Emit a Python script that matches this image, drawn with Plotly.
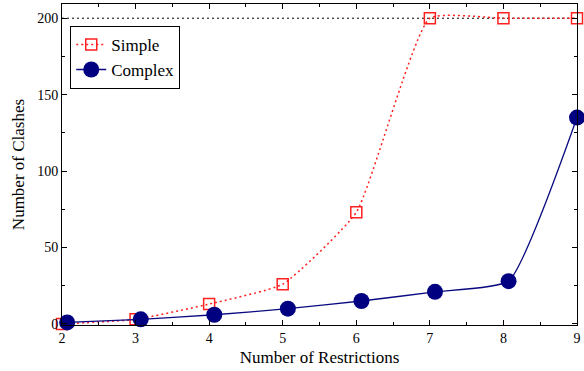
import plotly.graph_objects as go

# Number of clashes vs. number of restrictions
simple_x = [2, 3, 4, 5, 6, 7, 8, 9]
simple_y = [0, 3, 13, 26, 73, 200, 200, 200]

complex_x = [2.07, 3.07, 4.07, 5.07, 6.07, 7.07, 8.07, 9.0]
complex_y = [1, 3, 6, 10, 15, 21, 28, 135]

cap_value = 200
x_ticks = [2, 3, 4, 5, 6, 7, 8, 9]
y_ticks = [0, 50, 100, 150, 200]

FONT = "Liberation Serif"

fig = go.Figure()

fig.add_hline(y=cap_value, line=dict(color="black", width=1, dash="2px,3px"), layer="below")

fig.add_trace(go.Scatter(
    x=simple_x, y=simple_y, name="Simple",
    mode="lines+markers",
    line=dict(color="#ff2020", width=1.5, dash="2px,3px", shape="spline", smoothing=0.45),
    marker=dict(symbol="square-open", size=11, color="#ff2020", line=dict(width=1.5)),
    cliponaxis=False,
))

fig.add_trace(go.Scatter(
    x=complex_x, y=complex_y, name="Complex",
    mode="lines+markers",
    line=dict(color="#0a0a80", width=1.3, shape="spline", smoothing=0.45),
    marker=dict(symbol="circle", size=16, color="#000080"),
    cliponaxis=False,
))

axis_common = dict(
    showline=True, linecolor="black", linewidth=1, mirror="ticks",
    ticks="inside", ticklen=5, tickcolor="black", tickwidth=1,
    showgrid=False, zeroline=False,
    tickfont=dict(family=FONT, size=14, color="black"),
)

fig.update_xaxes(
    range=[2, 9], tickvals=x_ticks,
    minor=dict(ticks="inside", dtick=0.5, ticklen=3, tickcolor="black"),
    title=dict(text="Number of Restrictions", font=dict(family=FONT, size=17, color="black"), standoff=6),
    **axis_common,
)
fig.update_yaxes(
    range=[-0.7, 209.3], tickvals=y_ticks,
    minor=dict(ticks="inside", dtick=25, ticklen=3, tickcolor="black"),
    title=dict(text="Number of Clashes", font=dict(family=FONT, size=17, color="black"), standoff=8),
    **axis_common,
)

fig.update_layout(
    width=584, height=371,
    margin=dict(l=62, r=7, t=4, b=46),
    plot_bgcolor="white", paper_bgcolor="white",
    font=dict(family=FONT, color="black"),
    legend=dict(
        x=0.016, y=0.932, xanchor="left", yanchor="top",
        bgcolor="white", bordercolor="black", borderwidth=1,
        font=dict(family=FONT, size=17, color="black"),
        tracegroupgap=0,
    ),
    showlegend=True,
)

fig.write_html("out.html")
